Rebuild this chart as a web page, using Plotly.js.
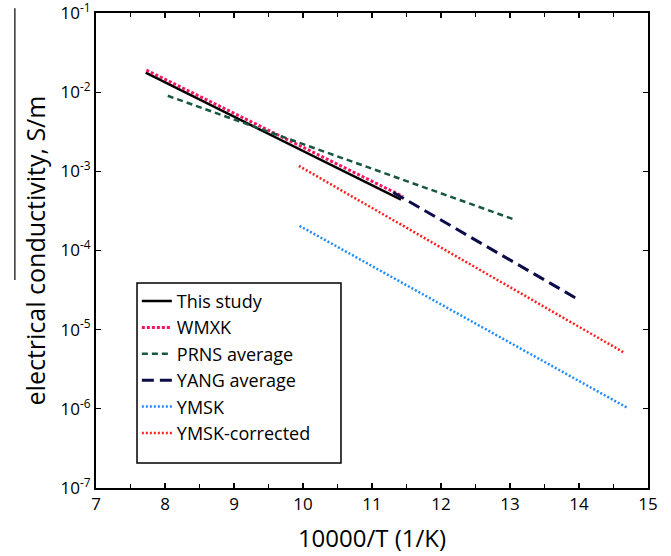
<!DOCTYPE html>
<html>
<head>
<meta charset="utf-8">
<script src="https://cdn.plot.ly/plotly-3.0.1.min.js"></script>
<style>html,body{margin:0;padding:0;background:#fff;}#chart{width:671px;height:556px;}</style>
</head>
<body>
<div id="chart"></div>
<script>
// Series endpoints (10000/T, conductivity S/m)
const seriesNames = ["This study", "WMXK", "PRNS average", "YANG average", "YMSK", "YMSK-corrected"];
const thisStudyX = [7.72, 11.42];
const thisStudyY = [0.0176, 4.4e-4];
const wmxkX = [7.73, 11.45];
const wmxkY = [0.019, 4.8e-4];
const prnsX = [8.04, 13.07];
const prnsY = [0.0090, 2.45e-4];
const yangX = [11.31, 14.01];
const yangY = [5.4e-4, 2.35e-5];
const ymskX = [9.95, 14.70];
const ymskY = [2.05e-4, 1.03e-6];
const ymskCorrX = [9.94, 14.64];
const ymskCorrY = [1.17e-3, 5.2e-6];

const yTickVals = [1e-7, 1e-6, 1e-5, 1e-4, 1e-3, 1e-2, 1e-1];
const yTickText = ["10<sup>-7</sup>", "10<sup>-6</sup>", "10<sup>-5</sup>", "10<sup>-4</sup>", "10<sup>-3</sup>", "10<sup>-2</sup>", "10<sup>-1</sup>"];
const xTickVals = [7, 8, 9, 10, 11, 12, 13, 14, 15];

const FONT = "'Open Sans', sans-serif";

const traces = [
  {x: thisStudyX, y: thisStudyY, name: seriesNames[0], mode: "lines",
   line: {color: "#000000", width: 2.5}},
  {x: wmxkX, y: wmxkY, name: seriesNames[1], mode: "lines",
   line: {color: "#f5145f", width: 3, dash: "3px,2px"}},
  {x: prnsX, y: prnsY, name: seriesNames[2], mode: "lines",
   line: {color: "#17573f", width: 2.5, dash: "6px,4px"}},
  {x: yangX, y: yangY, name: seriesNames[3], mode: "lines",
   line: {color: "#0c0c4a", width: 3, dash: "12px,6px"}},
  {x: ymskX, y: ymskY, name: seriesNames[4], mode: "lines",
   line: {color: "#1e8cff", width: 2.5, dash: "2px,2px"}},
  {x: ymskCorrX, y: ymskCorrY, name: seriesNames[5], mode: "lines",
   line: {color: "#ff1f1f", width: 2.5, dash: "2px,2px"}}
];

const layout = {
  width: 671, height: 556,
  margin: {l: 96, r: 23, t: 13, b: 68},
  paper_bgcolor: "#ffffff", plot_bgcolor: "#ffffff",
  font: {family: FONT, color: "#000", size: 16},
  showlegend: true,
  legend: {
    x: 0.074, y: 0.432, xanchor: "left", yanchor: "top",
    bgcolor: "rgba(0,0,0,0)", borderwidth: 0,
    font: {family: FONT, size: 18, color: "#000"},
    tracegroupgap: 0, itemwidth: 30
  },
  xaxis: {
    range: [7, 15], tickvals: xTickVals, ticks: "inside", ticklen: 5,
    tickwidth: 1.2, tickcolor: "#000",
    minor: {dtick: 0.5, ticks: "inside", ticklen: 4, tickcolor: "#000", tickwidth: 1.2},
    showline: true, linecolor: "#000", linewidth: 2, mirror: "ticks",
    showgrid: false, zeroline: false, ticklabeloverflow: "allow",
    tickfont: {family: FONT, size: 17},
    title: {text: "10000/T (1/K)", font: {family: FONT, size: 24}, standoff: 16}
  },
  yaxis: {
    type: "log", range: [-7, -1], tickvals: yTickVals, ticktext: yTickText,
    ticks: "inside", ticklen: 5, tickwidth: 1.2, tickcolor: "#000",
    showline: true, linecolor: "#000", linewidth: 2, mirror: "ticks",
    showgrid: false, zeroline: false, ticklabeloverflow: "allow",
    tickfont: {family: FONT, size: 17},
    title: {text: "electrical conductivity, S/m", font: {family: FONT, size: 25}, standoff: 8}
  },
  shapes: [
    {type: "line", xref: "paper", yref: "paper", x0: -0.147, x1: -0.147, y0: 1.01, y1: 0.438,
     line: {color: "#333", width: 1.5}},
    {type: "rect", xref: "paper", yref: "paper", x0: 0.0743, x1: 0.4438, y0: 0.0526, y1: 0.4316,
     fillcolor: "#ffffff", layer: "above", line: {color: "#000", width: 1.5}}
  ]
};

Plotly.newPlot("chart", traces, layout, {displayModeBar: false, staticPlot: true});
</script>
</body>
</html>
